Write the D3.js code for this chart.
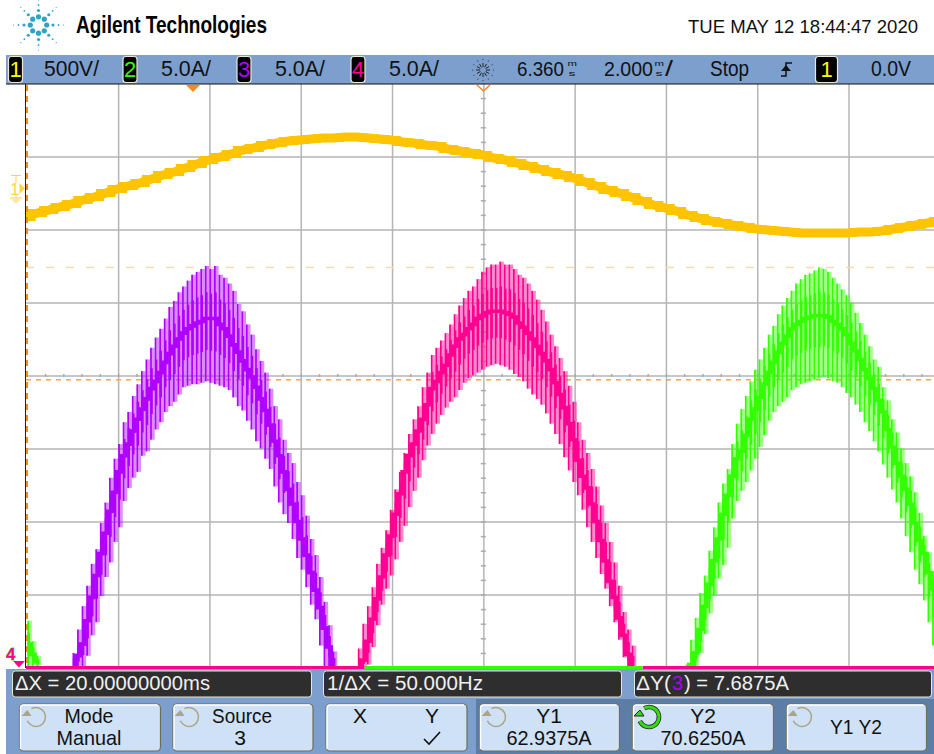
<!DOCTYPE html>
<html>
<head>
<meta charset="utf-8">
<script src="https://cdn.jsdelivr.net/npm/d3@7"></script>
<style>
  html, body { margin: 0; background: #fff; }
  svg { display: block; }
  text { font-family: "Liberation Sans", Arial, sans-serif; }
</style>
</head>
<body>
<svg id="scope"></svg>
<script>
// channel 1 voltage, one sample every 0.25 ms starting at the left edge (volts)
const voltStart = -3.66, voltStep = 0.25;
const voltage = [-192,-164,-144,-123,-103,-75,-55,-27,0,21,41,68,96,116,144,171,199,219,240,267,281,301,315,329,336,342,349,349,356,356,349,342,336,322,315,301,295,274,260,247,233,212,199,178,158,137,116,96,75,48,21,-7,-27,-55,-82,-110,-130,-151,-178,-199,-219,-233,-247,-260,-274,-281,-288,-295,-301,-301,-301,-301,-301,-295,-295,-288,-274,-260,-247,-233,-219];

// current channels, one ripple spike every 0.1 ms (amps)
const spikeStep = 0.1;

const purpleStart = -2.62;
const purpleTop = [1.0,2.6,4.2,5.6,7.1,8.1,9.9,11.3,13.0,14.3,15.3,16.8,17.5,18.6,19.4,20.3,21.1,21.9,22.6,23.2,23.9,24.7,25.1,25.7,26.1,26.5,26.9,27.1,27.3,27.5,27.3,27.5,26.9,26.7,26.3,25.8,24.9,24.4,23.5,22.8,21.8,21.0,20.2,19.1,17.9,17.0,15.6,14.7,14.0,12.7,11.8,10.4,8.8,7.7,6.2,4.5,2.9,1.1];
const purpleBottom = [0,0,0.1,0.8,2.2,3.1,4.9,6.2,7.2,8.6,9.6,11.4,12.3,13.0,13.4,14.5,14.8,15.6,16.3,16.8,17.5,17.9,18.2,18.7,19.2,19.3,19.4,19.4,19.5,19.6,19.5,19.4,19.3,19.2,19.0,18.5,17.9,17.6,16.9,16.3,15.5,15.0,14.3,13.6,12.4,11.3,10.5,9.9,8.8,7.5,6.7,5.5,4.3,3.3,1.5,0.1,0,0];
const purpleMid = [0.2,0.8,1.6,3.2,4.8,6.3,7.8,9.2,10.7,12.0,13.4,14.5,15.3,16.2,17.0,17.7,18.4,19.1,19.6,20.2,20.9,21.5,22.0,22.5,22.9,23.2,23.4,23.6,23.7,23.9,23.9,23.9,23.5,23.2,22.7,22.1,21.6,21.0,20.4,19.9,19.2,18.4,17.6,16.6,15.5,14.5,13.4,12.2,11.2,10.0,8.8,7.7,6.5,5.3,4.1,2.7,1.4,0.2];

const pinkStart = 3.63;
const pinkTop = [1.3,3.0,4.2,5.5,7.1,8.2,9.4,10.8,12.2,13.4,14.7,16.0,17.0,17.9,19.2,20.2,21.4,21.9,22.4,22.9,23.5,24.2,24.8,25.3,25.8,26.1,26.6,27.1,27.4,27.6,27.6,27.8,27.6,27.6,27.3,26.9,26.7,26.3,25.8,25.2,24.5,23.7,22.8,22.0,21.2,20.3,19.3,18.2,16.8,15.6,14.7,13.6,12.4,11.1,9.9,8.6,7.2,5.6,3.8,2.6,1.5];
const pinkBottom = [0,0,0.2,1.4,2.9,4.3,5.4,6.3,7.4,8.6,9.7,11.0,12.1,13.0,14.2,15.2,16.0,16.7,17.3,17.8,18.2,18.5,19.0,19.5,19.8,20.0,20.2,20.4,20.6,20.7,20.8,20.7,20.6,20.4,20.1,19.9,19.6,19.1,18.7,18.4,18.0,17.4,16.7,16.0,15.3,14.4,13.5,12.7,11.8,10.8,9.6,8.6,7.5,6.4,5.4,4.2,3.1,1.9,0.7,0,0];
const pinkMid = [0,0.5,1.8,3.3,4.7,6.2,7.7,9.0,10.5,11.9,13.4,14.5,15.3,16.2,17.0,18.0,19.1,19.6,20.2,20.7,21.4,22.0,22.5,22.8,23.2,23.5,23.9,24.1,24.3,24.4,24.4,24.4,24.3,24.2,24.0,23.6,23.3,22.9,22.5,22.0,21.5,21.0,20.4,19.5,18.7,17.8,16.7,15.6,14.2,13.1,12.3,11.2,10.0,8.7,7.3,5.9,4.8,3.4,2.2,0.9,0.1];

const greenStart = 10.81;
const greenTop = [0.2,1.9,3.4,5.1,6.3,8.0,9.6,11.3,12.6,13.6,15.3,16.7,17.7,18.6,19.6,20.4,21.1,21.9,22.8,23.4,24.2,24.8,25.3,25.8,26.3,26.6,26.9,27.0,27.2,27.4,27.3,27.1,26.7,26.3,25.9,25.5,25.0,24.3,23.6,22.8,22.0,21.1,20.6,19.2,18.3,17.0,16.1,15.0,14.0,13.1,12.0,10.6,9.0,7.9,6.6];
const greenBottom = [0,0,0,1.0,2.3,3.7,4.9,6.1,7.0,8.2,10.2,11.4,12.1,12.7,13.5,14.3,15.1,15.9,16.9,17.5,17.9,18.2,18.5,19.0,19.2,19.4,19.5,19.6,19.7,19.8,19.9,19.8,19.6,19.5,19.2,18.8,18.5,18.0,17.5,16.8,16.2,15.5,14.8,13.9,13.0,12.2,11.3,10.2,9.0,7.9,6.7,5.7,4.6,3.1,1.5];
const greenMid = [0,0.2,1.0,2.6,4.2,5.7,7.3,8.8,10.5,11.8,13.1,14.3,14.8,15.9,17.0,17.7,18.5,19.4,20.2,20.9,21.6,22.2,22.7,23.2,23.5,23.7,23.9,24.0,24.1,24.1,24.1,24.0,23.7,23.5,23.2,22.8,22.2,21.7,21.1,20.4,19.8,19.1,18.3,17.5,16.3,15.1,14.0,13.1,12.2,11.2,9.9,8.7,7.8,6.5,5.4];

// tail of the previous green pulse at the left edge
const tailStart = -3.61;
const tailTop = [3.2,1.8,0.8];
const tailBottom = [0,0,0];
const tailMid = [1.6,0.9,0.4];

// flat parts of the traces on the ground line: [from ms, to ms]
const pinkFlat = [[-3.66, 3.76], [9.85, 16.34]];
const greenFlat = [[3.76, 9.85]];

// grid and cursors
const gridTimes = [-1.64, 0.36, 2.36, 4.36, 6.36, 8.36, 10.36, 12.36, 14.36];
const gridAmps = [5, 10, 15, 20, 25, 30, 35];
const cursorY2 = 27.4, deltaY = 7.6875;

const width = 934, height = 754;
const svg = d3.select("#scope").attr("width", width).attr("height", height);

const x = d3.scaleLinear().domain([0, 20]).range([193, 193 + 913]);
const y = d3.scaleLinear().domain([0, 40]).range([667.5, 83.5]);
const yVolt = d3.scaleLinear().domain([0, 500]).range([189, 116]);

// helpers
function label(parent, str, px, py, size, opts) {
  opts = opts || {};
  const t = parent.append("text")
    .attr("x", px).attr("y", py)
    .attr("font-size", size)
    .attr("fill", opts.fill || "#111")
    .attr("text-anchor", opts.anchor || "start")
    .text(str);
  if (opts.bold) t.attr("font-weight", "bold");
  if (opts.len) t.attr("textLength", opts.len).attr("lengthAdjust", "spacingAndGlyphs");
  return t;
}

// header
const logo = svg.append("g").attr("transform", "translate(38.5,25)").attr("fill", "#2ea5c8");
[[8.2, 2.6], [14.5, 1.6], [20, 0.9], [25, 0.6]].forEach(ring => {
  d3.range(8).forEach(i => {
    logo.append("circle")
      .attr("cx", ring[0] * Math.cos(i * Math.PI / 4))
      .attr("cy", ring[0] * Math.sin(i * Math.PI / 4))
      .attr("r", ring[1]);
  });
});

label(svg, "Agilent Technologies", 76, 33, 24, { bold: true, len: 191, fill: "#000" });
label(svg, "TUE MAY 12 18:44:47 2020", 688, 33, 19, { len: 230 });

// plot
const plot = svg.append("g");

plot.append("g").attr("transform", "translate(0,84)")
  .call(d3.axisBottom(x).tickValues(gridTimes).tickSize(583).tickFormat(""));
plot.append("g").attr("transform", "translate(26,0)")
  .call(d3.axisRight(y).tickValues(gridAmps).tickSize(908).tickFormat(""));
plot.selectAll(".domain").remove();
plot.selectAll(".tick line").attr("stroke", "#b5b5b5").attr("stroke-width", 1.5);

// minor ticks on the centre axes, five per division
const minorX = d3.range(-3.24, 16.4, 0.4);
const minorY = d3.range(1, 40, 1);
plot.append("g").attr("transform", `translate(0,${y(20)})`)
  .call(d3.axisBottom(x).tickValues(minorX).tickSize(3).tickFormat(""))
  .call(g => g.select(".domain").remove())
  .selectAll("line").attr("stroke", "#aaa").attr("stroke-width", 1.5).attr("transform", "translate(0,-1.5)");
plot.append("g").attr("transform", `translate(${x(6.36)},0)`)
  .call(d3.axisRight(y).tickValues(minorY).tickSize(5).tickFormat(""))
  .call(g => g.select(".domain").remove())
  .selectAll("line").attr("stroke", "#aaa").attr("stroke-width", 1.5).attr("transform", "translate(-2.5,0)");

// cursors
plot.append("line").attr("x1", 26).attr("x2", width)
  .attr("y1", y(cursorY2)).attr("y2", y(cursorY2))
  .attr("stroke", "#ffd9ad").attr("stroke-width", 1.5).attr("stroke-dasharray", "8,12");
plot.append("line").attr("x1", 26).attr("x2", width)
  .attr("y1", y(cursorY2 - deltaY)).attr("y2", y(cursorY2 - deltaY))
  .attr("stroke", "#ffa64d").attr("stroke-width", 1.5).attr("stroke-dasharray", "5,5");

// voltage trace: smooth band with a stepped one on top for the rough edge
const voltX = (d, i) => x(voltStart + i * voltStep);
plot.append("path").datum(voltage)
  .attr("d", d3.line().x(voltX).y(d => yVolt(d)))
  .attr("fill", "none").attr("stroke", "#ffc400").attr("stroke-width", 9);
plot.append("path").datum(voltage)
  .attr("d", d3.line().x(voltX).y(d => yVolt(d)).curve(d3.curveStep))
  .attr("fill", "none").attr("stroke", "#ffc400").attr("stroke-width", 8);

// current pulses: pale spike next to a dark one, darker core, stepped centre band
function drawPulse(start, top, bottom, mid, color) {
  const g = plot.append("g");
  const sx = (d, i) => x(start + i * spikeStep);
  g.selectAll("line.pale").data(top).join("line").attr("class", "pale")
    .attr("x1", (d, i) => sx(d, i) + 2.3)
    .attr("x2", (d, i) => sx(d, i) + 2.3)
    .attr("y1", d => y(d))
    .attr("y2", (d, i) => y(bottom[i]))
    .attr("stroke", color).attr("stroke-opacity", 0.45).attr("stroke-width", 2.8);
  g.selectAll("line.dark").data(top).join("line").attr("class", "dark")
    .attr("x1", sx).attr("x2", sx)
    .attr("y1", d => y(d))
    .attr("y2", (d, i) => y(bottom[i]))
    .attr("stroke", color).attr("stroke-width", 1.8);
  g.selectAll("line.core").data(mid).join("line").attr("class", "core")
    .attr("x1", (d, i) => sx(d, i) + 0.6).attr("x2", (d, i) => sx(d, i) + 0.6)
    .attr("y1", (d, i) => y((d + top[i]) / 2))
    .attr("y2", (d, i) => y((d + bottom[i]) / 2))
    .attr("stroke", color).attr("stroke-width", 2.4);
  g.append("path").datum(mid)
    .attr("d", d3.line().x(sx).y(d => y(d)).curve(d3.curveStep))
    .attr("fill", "none").attr("stroke", color).attr("stroke-width", 3.6);
}

drawPulse(tailStart, tailTop, tailBottom, tailMid, "#33ff00");
drawPulse(purpleStart, purpleTop, purpleBottom, purpleMid, "#b000ff");
drawPulse(pinkStart, pinkTop, pinkBottom, pinkMid, "#ff0090");
drawPulse(greenStart, greenTop, greenBottom, greenMid, "#33ff00");

// ground line
function flat(segments, color) {
  plot.append("g").selectAll("line").data(segments).join("line")
    .attr("x1", d => x(d[0])).attr("x2", d => x(d[1]))
    .attr("y1", y(0)).attr("y2", y(0))
    .attr("stroke", color).attr("stroke-width", 3.2);
}
flat(pinkFlat, "#ff0090");
flat(greenFlat, "#33ff00");

// left edge: black line and dashed X cursor
plot.append("line").attr("x1", 25.5).attr("x2", 25.5).attr("y1", 84).attr("y2", 668).attr("stroke", "#222").attr("stroke-width", 1);
plot.append("line").attr("x1", 27).attr("x2", 27).attr("y1", 85).attr("y2", 668)
  .attr("stroke", "#f58a1f").attr("stroke-width", 2).attr("stroke-dasharray", "6,5");

// time markers
plot.append("path").attr("d", "M186 85 L200 85 L193 92 Z").attr("fill", "#f58a1f");
plot.append("path").attr("d", "M477 85 L483.5 91 L490 85").attr("fill", "none").attr("stroke", "#f58a1f").attr("stroke-width", 1.5);

// channel 1 ground marker
const gnd = svg.append("g").attr("fill", "#ffd24d").attr("stroke", "#ffd24d");
label(gnd, "1", 10, 195, 17, { fill: "#ffd24d" }).attr("stroke", "none");
gnd.append("path").attr("d", "M19.5 183 L25 188.5 L19.5 194 Z").attr("stroke", "none");
gnd.append("path").attr("d", "M11 175.5 H21 M16 175.5 V183 M16 194 V198 M10 198 H22 M12 200 H20 M14 202 H18").attr("fill", "none");

// channel 4 ground marker, pink on a thin green edge
label(svg, "4", 6, 660, 17, { fill: "#ff0090", bold: true })
  .attr("stroke", "#33ff00").attr("stroke-width", 0.8).attr("paint-order", "stroke");
svg.append("path").attr("d", "M13 661 H25 L19 667.5 Z").attr("fill", "#ff0090");

// top bar
const bar = svg.append("g");
bar.append("rect").attr("x", 6).attr("y", 55).attr("width", 928).attr("height", 29).attr("fill", "#7c9fcd");
bar.append("line").attr("x1", 6).attr("x2", 934).attr("y1", 84).attr("y2", 84).attr("stroke", "#111").attr("stroke-width", 1.2);

function chip(px, w, str, color) {
  bar.append("rect").attr("x", px).attr("y", 56.5).attr("width", w).attr("height", 26).attr("rx", 3)
    .attr("fill", "#000").attr("stroke", "#e8e8dc").attr("stroke-width", 1.2);
  label(bar, str, px + w / 2, 77, 22, { fill: color, anchor: "middle" });
}
chip(8.5, 14, "1", "#ffff00");
chip(123, 14, "2", "#33ff00");
chip(237, 14, "3", "#b000ff");
chip(351, 14, "4", "#ff0090");
chip(815.5, 22, "1", "#ffff00");

label(bar, "500V/", 44, 76, 22, { len: 55 });
label(bar, "5.0A/", 161, 76, 22, { len: 50 });
label(bar, "5.0A/", 275, 76, 22, { len: 50 });
label(bar, "5.0A/", 389, 76, 22, { len: 50 });
label(bar, "6.360", 517, 76, 20, { len: 47 });
label(bar, "m", 567.5, 66, 8, { len: 9.5 });
label(bar, "s", 568.5, 76, 8, { len: 7 });
label(bar, "2.000", 604, 76, 20, { len: 49 });
label(bar, "m", 654.5, 66, 8, { len: 9.5 });
label(bar, "s", 655.5, 76, 8, { len: 7 });
label(bar, "/", 665, 76, 22, { len: 8 });
label(bar, "Stop", 710, 76, 22, { len: 39 });
label(bar, "0.0V", 871, 76, 22, { len: 40 });

// acquisition starburst
const burst = bar.append("g").attr("transform", "translate(483,70)").attr("stroke", "#222").attr("stroke-width", 1);
d3.range(12).forEach(i => {
  const a = i * Math.PI / 6;
  burst.append("line")
    .attr("x1", 3 * Math.cos(a)).attr("y1", 3 * Math.sin(a))
    .attr("x2", 7 * Math.cos(a)).attr("y2", 7 * Math.sin(a));
  burst.append("circle").attr("cx", 10.5 * Math.cos(a)).attr("cy", 10.5 * Math.sin(a)).attr("r", 0.6).attr("fill", "#333").attr("stroke", "none");
});

// trigger edge symbol
bar.append("path").attr("d", "M781 76 H786 V63 H792").attr("fill", "none").attr("stroke", "#111").attr("stroke-width", 1.5);
bar.append("path").attr("d", "M781 71 L786 65 L791 71 Z").attr("fill", "#111");

// bottom panel
const panel = svg.append("g");
panel.append("rect").attr("x", 6).attr("y", 669).attr("width", 928).attr("height", 85).attr("fill", "#7c9fcd");
panel.append("rect").attr("x", 476).attr("y", 699).attr("width", 458).attr("height", 55).attr("fill", "#5c7ea6");

function readout(px, w) {
  panel.append("rect").attr("x", px).attr("y", 671).attr("width", w).attr("height", 26).attr("rx", 3)
    .attr("fill", "#2e2e2e").attr("stroke", "#e6e6da").attr("stroke-width", 1);
}
readout(12.5, 299);
readout(323.5, 298);
readout(634.5, 297);

const light = "#f0f0f0";
label(panel, "ΔX = 20.00000000ms", 15, 690, 20, { fill: light, len: 195 });
label(panel, "1/ΔX = 50.000Hz", 327, 690, 20, { fill: light, len: 156 });
label(panel, "ΔY(", 636, 690, 20, { fill: light, len: 35 });
label(panel, "3", 672, 690, 20, { fill: "#a800ff", len: 11 });
label(panel, ") = 7.6875A", 684, 690, 20, { fill: light, len: 105 });

function softkey(px, w) {
  panel.append("rect").attr("x", px).attr("y", 704).attr("width", w).attr("height", 47).attr("rx", 4)
    .attr("fill", "#cfe1f6").attr("stroke", "#6f6f55").attr("stroke-width", 1.2);
  panel.append("path")
    .attr("d", `M${px + 1} 749 V708 Q${px + 1} 705 ${px + 4} 705 H${px + w - 3}`)
    .attr("fill", "none").attr("stroke", "#fff").attr("stroke-width", 1.4);
}
softkey(19.5, 141);
softkey(173, 140);
softkey(326, 141);
softkey(479.5, 140);
softkey(632.5, 141);
softkey(786.5, 140);

function knob(cx, color, r, sw, outline) {
  const g = panel.append("g").attr("transform", `translate(${cx},717)`);
  const arc = d3.arc().innerRadius(r).outerRadius(r).startAngle(-0.5).endAngle(4.3);
  if (outline) g.append("path").attr("d", arc()).attr("fill", "none").attr("stroke", "#222").attr("stroke-width", sw + 1.5);
  g.append("path").attr("d", arc()).attr("fill", "none").attr("stroke", color).attr("stroke-width", sw);
  g.append("path").attr("d", `M${-r - 5} -1 L${-r + 1} -7 L${-r + 5} -1 Z`)
    .attr("fill", color).attr("stroke", outline ? "#222" : "none");
}
knob(36, "#a9a586", 9.5, 1.5, false);
knob(189, "#a9a586", 9.5, 1.5, false);
knob(496, "#a9a586", 9.5, 1.5, false);
knob(649, "#33dd11", 10, 3, true);
knob(802, "#a9a586", 9.5, 1.5, false);

const mid = { anchor: "middle" };
label(panel, "Mode", 89, 723, 21, { anchor: "middle", len: 49 });
label(panel, "Manual", 89, 745, 21, { anchor: "middle", len: 65 });
label(panel, "Source", 242, 723, 21, { anchor: "middle", len: 60 });
label(panel, "3", 240, 745, 21, mid);
label(panel, "X", 360, 723, 21, mid);
label(panel, "Y", 432, 723, 21, mid);
panel.append("path").attr("d", "M424 739 L429 744 L440 732").attr("fill", "none").attr("stroke", "#111").attr("stroke-width", 1.6);
label(panel, "Y1", 549, 723, 21, mid);
label(panel, "62.9375A", 549, 745, 21, { anchor: "middle", len: 85 });
label(panel, "Y2", 703, 723, 21, mid);
label(panel, "70.6250A", 703, 745, 21, { anchor: "middle", len: 85 });
label(panel, "Y1 Y2", 856, 734, 21, { anchor: "middle", len: 52 });
</script>
</body>
</html>
